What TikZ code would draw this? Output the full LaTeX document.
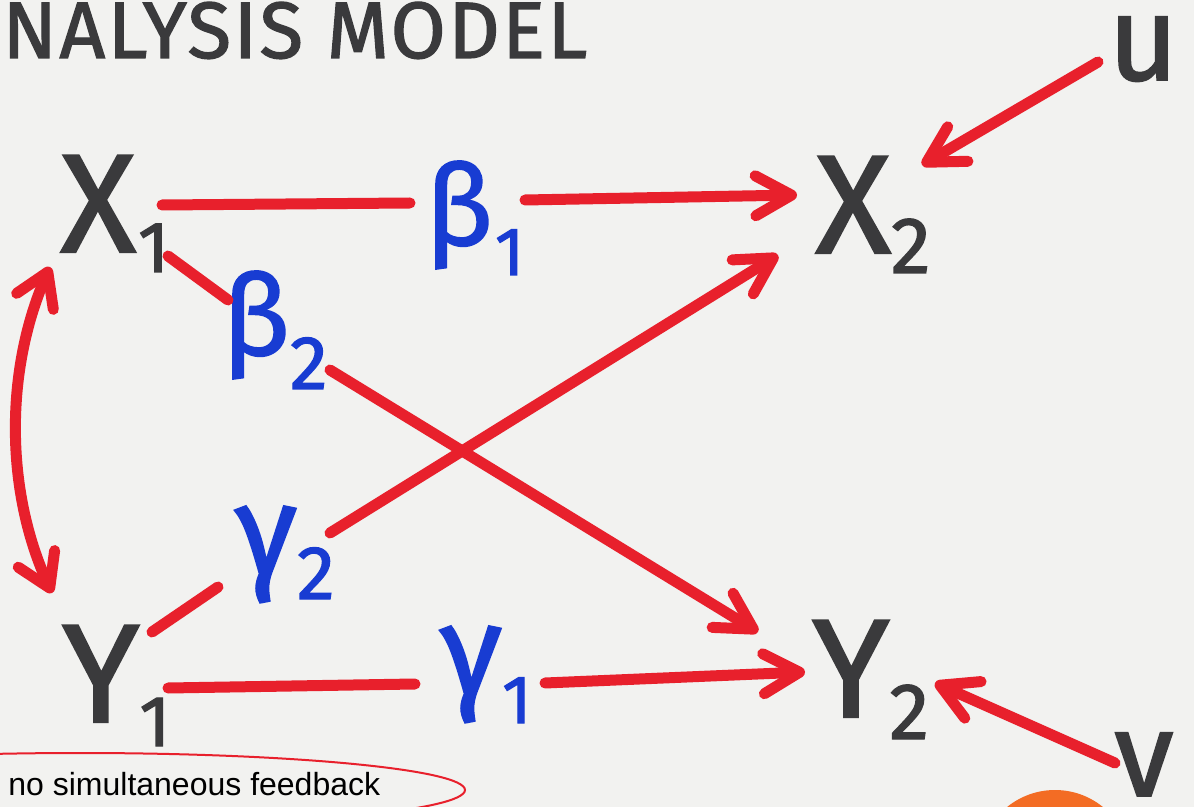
\documentclass[tikz,border=0pt]{standalone}
\usepackage{fontspec}
\setmainfont{Liberation Sans}
\newfontfamily\hand[FakeBold=1.6]{Fira Sans}
\newfontfamily\handtitle[FakeBold=1.6,LetterSpace=3]{Fira Sans}
\usetikzlibrary{arrows.meta,calc}
\definecolor{bg}{RGB}{242,242,240}
\definecolor{marker}{RGB}{232,32,44}
\definecolor{ink}{RGB}{58,58,60}
\definecolor{blueink}{RGB}{24,60,210}
\definecolor{blob}{RGB}{243,108,36}
\begin{document}
\begin{tikzpicture}[x=0.5pt,y=-0.5pt,
  var/.style={text=ink, font=\hand\fontsize{70}{70}\selectfont, inner sep=0pt, anchor=base west},
  coef/.style={text=blueink, font=\hand\fontsize{56}{56}\selectfont, inner sep=0pt, anchor=base west},
  gcoef/.style={text=blueink, font=\hand\fontsize{64}{64}\selectfont, inner sep=0pt, anchor=base west},
  stroke/.style={draw=marker, line width=5.5pt, line cap=round},
  arr/.style={stroke, -{Straight Barb[length=18pt,width=20pt,round]}},
  dbl/.style={stroke, {Straight Barb[length=16pt,width=20pt,round]}-{Straight Barb[length=16pt,width=20pt,round]}},
]
\useasboundingbox (0,0) rectangle (1194,807);
\fill[bg] (0,0) rectangle (1194,807);
\begin{scope}
\clip (0,0) rectangle (1194,807);
% orange blob
\fill[blob] (1055,866) circle (76);
% title
\node[text=ink, font=\handtitle\fontsize{40}{40}\selectfont, inner sep=0pt, anchor=base west] (title) at (2,58) {NALYSIS MODEL};
% variables
\node[var] (X1) at (60,252) {X\kern1pt\raisebox{-10pt}{\fontsize{36}{36}\selectfont 1}};
\node[var] (X2) at (815,253) {X\kern0pt\raisebox{-10pt}{\fontsize{40}{40}\selectfont 2}};
\node[var] (Y1) at (62,722) {Y\kern0pt\raisebox{-12pt}{\fontsize{36}{36}\selectfont 1}};
\node[var] (Y2) at (812,717) {Y\kern0pt\raisebox{-11pt}{\fontsize{40}{40}\selectfont 2}};
\node[var, font=\hand\fontsize{60}{60}\selectfont] (u) at (1108,80) {u};
\node[var, font=\hand\fontsize{60}{60}\selectfont] (v) at (1114,796) {v};
% coefficients
\node[coef] (b1) at (425,245) {β\kern1pt\raisebox{-15pt}{\fontsize{34}{34}\selectfont 1}};
\node[coef] (b2) at (222,355) {β\kern0pt\raisebox{-17pt}{\fontsize{38}{38}\selectfont 2}};
\node[gcoef] (g2) at (235,575) {γ\kern0pt\raisebox{-12pt}{\fontsize{38}{38}\selectfont 2}};
\node[gcoef] (g1) at (440,695) {γ\kern0pt\raisebox{-14pt}{\fontsize{34}{34}\selectfont 1}};
% connectors
\draw[stroke] ($(X1.base west)+(102,-47)$) -- ($(b1.base west)+(-15,-42)$);
\draw[arr] ($(b1.base west)+(100,-45)$) -- ($(X2.base west)+(-18,-58)$);
\draw[stroke] ($(X1.base west)+(108,4)$) -- ($(b2.base west)+(6,-55)$);
\draw[arr] ($(b2.base west)+(108,15)$) -- ($(Y2.base west)+(-54,-85)$);
\draw[stroke] ($(Y1.base west)+(90,-90)$) -- ($(g2.base west)+(-17,12)$);
\draw[arr] ($(g2.base west)+(95,-42)$) -- ($(X2.base west)+(-37,2)$);
\draw[stroke] ($(Y1.base west)+(106,-34)$) -- ($(g1.base west)+(-25,-11)$);
\draw[arr] ($(g1.base west)+(105,-12)$) -- ($(Y2.base west)+(-7,-45)$);
\draw[arr] ($(u.base west)+(-10,-18)$) -- ($(X2.base west)+(107,-88)$);
\draw[arr] ($(v.base west)+(1,-33)$) -- ($(Y2.base west)+(123,-34)$);
\draw[dbl] ($(X1.base west)+(-10,15)$) .. controls (5,370) and (5,490) .. ($(Y1.base west)+(-10,-129)$);
% note
\draw[draw=marker, line width=1pt] (80,790) ellipse [x radius=385, y radius=37];
\node[font=\fontsize{16}{16}\selectfont, text=black, inner sep=0pt, anchor=base west] (note) at (8,795) {no simultaneous feedback};
\end{scope}
\end{tikzpicture}
\end{document}
